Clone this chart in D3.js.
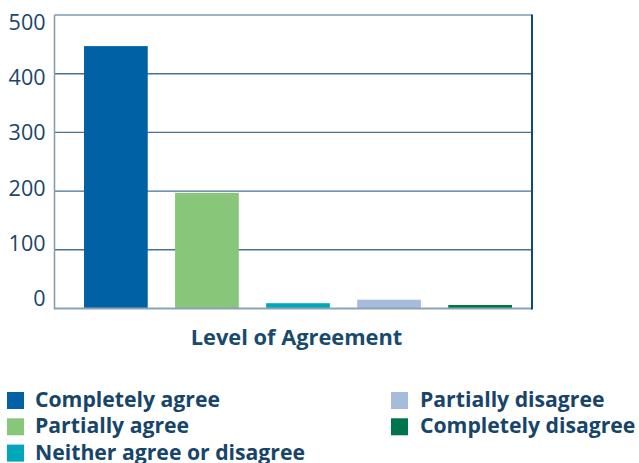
<!DOCTYPE html>
<html>
<head>
<meta charset="utf-8">
<script src="https://cdn.jsdelivr.net/npm/d3@7"></script>
<style>
  html, body { margin: 0; padding: 0; background: #ffffff; }
  svg { display: block; }
  text { font-family: "Open Sans", "Noto Sans", sans-serif; }
</style>
</head>
<body>
<svg id="chart" width="639" height="463"></svg>
<script>
// Responses by level of agreement
const categories = ["Completely agree", "Partially agree", "Neither agree or disagree", "Partially disagree", "Completely disagree"];
const counts = [447, 197, 9, 15, 6];
const colors = ["#0062a5", "#88c77a", "#00a7b8", "#a7bcdc", "#00744a"];
const yTicks = [0, 100, 200, 300, 400, 500];
const axisTitle = "Level of Agreement";

const svg = d3.select("#chart");
const textColor = "#1a4668";

// plot frame
const plot = { left: 54.5, right: 532, top: 15, bottom: 308.5 };

const y = d3.scaleLinear().domain([0, 500]).range([plot.bottom, plot.top]);
const x = d3.scaleBand().domain(categories).range([84, 512]).paddingInner(0.3).paddingOuter(0);

// tick labels sit on their own evenly spaced baselines
const labelY = d3.scaleLinear().domain([0, 500]).range([306, 30]);

// horizontal gridlines
svg.append("g").selectAll("line").data(yTicks.filter(d => d > 0)).join("line")
  .attr("x1", plot.left).attr("x2", plot.right)
  .attr("y1", d => y(d)).attr("y2", d => y(d))
  .attr("stroke", d => d === 500 ? "#7f9bb0" : "#4b7090")
  .attr("stroke-width", 1.4);

// bars
svg.append("g").selectAll("rect").data(categories).join("rect")
  .attr("x", d => x(d))
  .attr("width", x.bandwidth())
  .attr("y", (d, i) => y(counts[i]))
  .attr("height", (d, i) => y(0) - y(counts[i]))
  .attr("fill", (d, i) => colors[i]);

// axes lines
svg.append("line").attr("x1", plot.left).attr("x2", plot.left)
  .attr("y1", plot.top).attr("y2", plot.bottom + 1)
  .attr("stroke", "#7f9bb0").attr("stroke-width", 1.5);
svg.append("line").attr("x1", plot.left).attr("x2", plot.right)
  .attr("y1", y(0)).attr("y2", y(0))
  .attr("stroke", "#8aa2b5").attr("stroke-width", 2);
svg.append("line").attr("x1", plot.right).attr("x2", plot.right)
  .attr("y1", plot.top - 0.5).attr("y2", plot.bottom + 1)
  .attr("stroke", "#0c4a7a").attr("stroke-width", 2);

// y tick labels
svg.append("g").selectAll("text").data(yTicks).join("text")
  .attr("x", 45.5)
  .attr("y", d => labelY(d))
  .attr("text-anchor", "end")
  .attr("font-size", 21.5)
  .attr("fill", textColor)
  .text(d => d);

// axis title
svg.append("text")
  .attr("x", 296.5).attr("y", 345)
  .attr("text-anchor", "middle")
  .attr("font-size", 21.8)
  .attr("font-weight", "bold")
  .attr("fill", "#184a6e")
  .text(axisTitle);

// legend
const legendCols = [
  { sx: 7, tx: 35 },
  { sx: 391, tx: 420 }
];
const rowsPerCol = 3;
const legend = svg.append("g").selectAll("g").data(categories).join("g")
  .attr("transform", (d, i) => {
    const row = i % rowsPerCol;
    return `translate(0, ${392 + row * 26.3})`;
  });
legend.append("rect")
  .attr("x", (d, i) => legendCols[Math.floor(i / rowsPerCol)].sx)
  .attr("y", 0)
  .attr("width", 17).attr("height", 17)
  .attr("fill", (d, i) => colors[i]);
legend.append("text")
  .attr("x", (d, i) => legendCols[Math.floor(i / rowsPerCol)].tx)
  .attr("y", 15)
  .attr("font-size", 21.2)
  .attr("font-weight", "bold")
  .attr("fill", "#17456a")
  .text(d => d);
</script>
</body>
</html>
